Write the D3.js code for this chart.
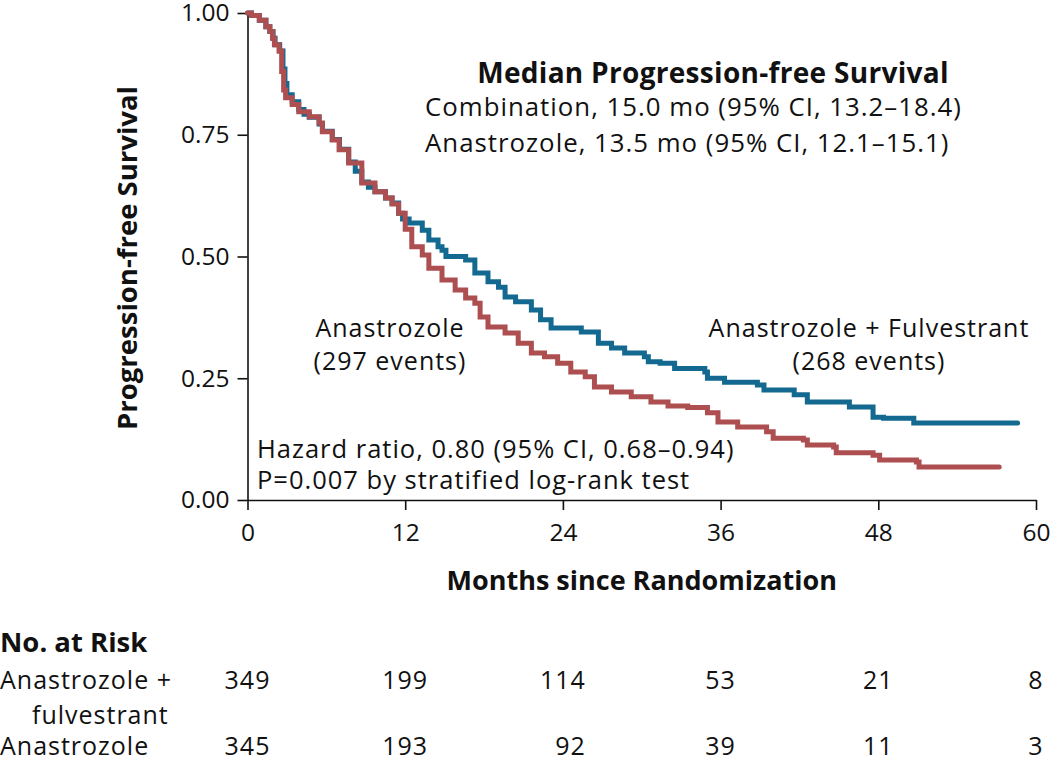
<!DOCTYPE html>
<html>
<head>
<meta charset="utf-8">
<script src="https://cdn.jsdelivr.net/npm/d3@7"></script>
<style>
  html, body { margin: 0; padding: 0; background: #fff; }
  svg { display: block; }
  text { font-family: "Open Sans", "Noto Sans", sans-serif; fill: #111; }
</style>
</head>
<body>
<svg id="chart" width="1050" height="762"></svg>
<script>
// ---- Data ----
const xTicks = [0, 12, 24, 36, 48, 60];
const yTicks = [0, 0.25, 0.5, 0.75, 1.0];

// Anastrozole + Fulvestrant (combination) — [months, survival]
const combinationCurve = [
  [0,1.0],[0.3,0.995],[0.9,0.985],[1.4,0.972],[1.7,0.962],[1.95,0.948],[2.1,0.935],
  [2.45,0.922],[2.7,0.885],[2.85,0.855],[3.0,0.832],[3.4,0.818],[3.9,0.802],[4.3,0.792],
  [4.7,0.786],[5.45,0.772],[5.7,0.757],[6.45,0.74],[7.0,0.72],[7.7,0.694],[8.2,0.675],
  [8.7,0.653],[9.2,0.642],[9.7,0.633],[10.5,0.62],[11.0,0.61],[11.5,0.589],[11.8,0.577],
  [12.3,0.569],[13.3,0.554],[13.8,0.534],[14.5,0.52],[14.8,0.513],[15.1,0.5],[16.6,0.493],
  [17.3,0.466],[18.3,0.448],[19.1,0.437],[19.6,0.417],[20.4,0.407],[21.6,0.39],[22.3,0.37],
  [23.1,0.353],[25.4,0.345],[26.7,0.322],[27.7,0.312],[28.7,0.302],[30.2,0.294],[30.5,0.284],
  [31.4,0.281],[32.5,0.27],[34.8,0.263],[35.0,0.25],[36.3,0.242],[38.8,0.236],[39.3,0.226],
  [41.6,0.216],[42.6,0.201],[45.8,0.191],[47.6,0.17],[48.4,0.168],[50.7,0.158],[58.6,0.158]
];

// Anastrozole alone — [months, survival]
const anastrozoleCurve = [
  [0,1.0],[0.3,0.995],[0.9,0.985],[1.4,0.972],[1.7,0.962],[1.9,0.948],[2.05,0.935],
  [2.4,0.922],[2.6,0.88],[2.75,0.842],[2.9,0.826],[3.4,0.812],[3.9,0.797],[4.7,0.787],
  [5.45,0.774],[5.7,0.756],[6.45,0.739],[6.97,0.719],[7.7,0.692],[8.7,0.651],[9.7,0.633],
  [10.5,0.62],[11.0,0.608],[11.5,0.589],[12.0,0.556],[12.5,0.52],[13.3,0.503],[13.8,0.476],
  [14.8,0.452],[15.8,0.431],[16.6,0.415],[17.3,0.404],[17.7,0.376],[18.3,0.355],[19.6,0.343],
  [20.6,0.322],[21.6,0.302],[22.6,0.294],[23.6,0.281],[24.6,0.263],[25.7,0.253],[26.4,0.232],
  [27.7,0.222],[29.2,0.212],[30.7,0.201],[32.0,0.193],[33.5,0.19],[35.0,0.179],[35.8,0.16],
  [37.3,0.15],[39.5,0.14],[40.0,0.127],[42.3,0.123],[42.6,0.113],[44.6,0.109],[44.8,0.097],
  [47.6,0.092],[48.1,0.082],[50.9,0.078],[51.1,0.068],[57.2,0.068]
];

const riskRowLabels = [["Anastrozole +", "fulvestrant"], ["Anastrozole"]];
const riskCombination = [349, 199, 114, 53, 21, 8];
const riskAnastrozole = [345, 193, 92, 39, 11, 3];

const medianTitle = "Median Progression-free Survival";
const medianLines = ["Combination, 15.0 mo (95% CI, 13.2\u201318.4)",
                     "Anastrozole, 13.5 mo (95% CI, 12.1\u201315.1)"];
const hazardLines = ["Hazard ratio, 0.80 (95% CI, 0.68\u20130.94)",
                     "P=0.007 by stratified log-rank test"];

// ---- Chart ----
const svg = d3.select("#chart");
const x = d3.scaleLinear().domain([0, 60]).range([247.5, 1036]);
const y = d3.scaleLinear().domain([0, 1]).range([500, 13]);

const blue = "#13698f";
const red = "#ad4e50";
const NORMAL = 25, LS = 1;

// Y axis
const yAxis = svg.append("g").attr("transform", `translate(${x(0)},0)`)
  .call(d3.axisLeft(y).tickValues(yTicks).tickFormat(d3.format(".2f"))
    .tickSize(10).tickSizeOuter(0).tickPadding(8));
// X axis
const xAxis = svg.append("g").attr("transform", `translate(0,${y(0)})`)
  .call(d3.axisBottom(x).tickValues(xTicks).tickFormat(d3.format("d"))
    .tickSize(10).tickSizeOuter(0).tickPadding(14));
[yAxis, xAxis].forEach(g => {
  g.selectAll("path.domain").attr("stroke", "#111").attr("stroke-width", 1.6);
  g.selectAll(".tick line").attr("stroke", "#111").attr("stroke-width", 1.6);
  g.selectAll(".tick text").attr("font-size", 24.5).attr("fill", "#111")
    .style("font-family", '"Open Sans", sans-serif');
});

// Curves
const line = d3.line().x(d => x(d[0])).y(d => y(d[1])).curve(d3.curveStepAfter);
svg.append("path").datum(combinationCurve).attr("d", line)
  .attr("fill", "none").attr("stroke", blue).attr("stroke-width", 5)
  .attr("stroke-linecap", "round");
svg.append("path").datum(anastrozoleCurve).attr("d", line)
  .attr("fill", "none").attr("stroke", red).attr("stroke-width", 5)
  .attr("stroke-linecap", "round");

function txt(xp, yp, s, opts = {}) {
  return svg.append("text").attr("x", xp).attr("y", yp)
    .attr("font-size", opts.size || NORMAL)
    .attr("font-weight", opts.bold ? 700 : 400)
    .attr("letter-spacing", opts.ls !== undefined ? opts.ls : LS)
    .attr("text-anchor", opts.anchor || "start")
    .text(s);
}

// Axis titles
txt(x(30), 590, "Months since Randomization", {size: 27, bold: true, ls: 0, anchor: "middle"});
svg.append("text").attr("transform", `translate(137,258) rotate(-90)`)
  .attr("text-anchor", "middle").attr("font-size", 27.5).attr("font-weight", 700)
  .text("Progression-free Survival");

// Median annotation
txt(713, 83, medianTitle, {size: 28, bold: true, ls: 0.3, anchor: "middle"});
medianLines.forEach((t, i) => txt(425, 116 + i * 36, t, {size: 25.8}));

// Curve labels
txt(390, 337, "Anastrozole", {anchor: "middle"});
txt(390, 370, "(297 events)", {anchor: "middle"});
txt(869, 337, "Anastrozole + Fulvestrant", {anchor: "middle"});
txt(869, 370, "(268 events)", {anchor: "middle"});

// Hazard ratio annotation
hazardLines.forEach((t, i) => txt(257, 458 + i * 31, t, {size: 25.5}));

// Risk table
txt(0, 652, "No. at Risk", {size: 27.5, bold: true, ls: 0});
txt(0, 689, riskRowLabels[0][0]);
txt(32, 724, riskRowLabels[0][1]);
txt(0, 755, riskRowLabels[1][0]);

const rows = [{vals: riskCombination, yPos: 689}, {vals: riskAnastrozole, yPos: 755}];
const cells = [];
rows.forEach(r => {
  r.vals.forEach((v, i) => {
    const t = txt(0, r.yPos, String(v), {anchor: "end"});
    cells.push({t, i});
  });
});
// right-align each column on its tick, offset by half the widest label of the column
xTicks.forEach((tk, i) => {
  const col = cells.filter(c => c.i === i);
  const w = d3.max(col, c => c.t.node().getComputedTextLength());
  col.forEach(c => c.t.attr("x", Math.min(x(tk) + w / 2, 1046)));
});
</script>
</body>
</html>
